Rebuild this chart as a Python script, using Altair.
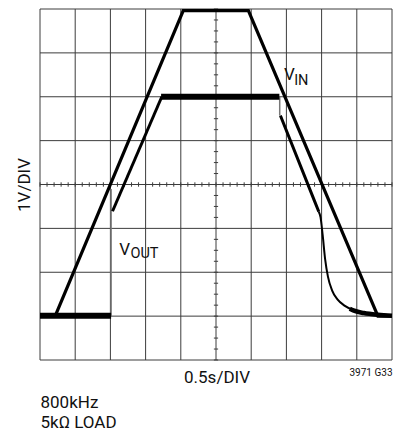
import altair as alt
import pandas as pd

# ---- data (division units: x 0..10, y 0..8) ----
vin_x = [0.0, 0.43, 4.07, 5.92, 9.60, 10.0]
vin_y = [1.0, 1.0, 7.965, 7.965, 1.0, 1.0]

vout_low_x = [0.0, 2.02]
vout_low_y = [1.01, 1.01]
vout_rise_x = [2.06, 3.46]
vout_rise_y = [3.39, 6.0]
vout_high_x = [3.44, 6.80]
vout_high_y = [6.0, 6.0]
vout_fall_x = [6.83, 7.80, 7.92]
vout_fall_y = [5.57, 3.62, 3.38]
vout_decay_x = [7.92, 7.97, 8.03, 8.10, 8.18, 8.30, 8.45, 8.65, 8.90, 9.20, 9.60, 10.0]
vout_decay_y = [3.38, 3.25, 2.85, 2.30, 1.90, 1.58, 1.38, 1.24, 1.14, 1.08, 1.04, 1.02]
vout_tail_x = [8.80, 8.90, 9.20, 9.60, 10.0]
vout_tail_y = [1.17, 1.13, 1.07, 1.03, 1.01]
spike_x = [2.02, 6.81]
spike_y1 = [1.0, 5.57]
spike_y2 = [3.9, 6.0]

grid_x = [0, 1, 2, 3, 4, 5, 6, 7, 8, 9, 10]
grid_y = [0, 1, 2, 3, 4, 5, 6, 7, 8]
minor_x = [i * 0.2 for i in range(51)]
minor_y = [i * 0.25 for i in range(33)]

main_text = ["V", "V"]
main_x = [6.93, 2.25]
main_y = [6.50, 2.51]
sub_text = ["IN", "OUT"]
sub_x = [7.22, 2.57]
sub_y = [6.36, 2.41]

W, H = 352, 351
FONT = "Roboto"

xs = alt.Scale(domain=[0, 10], nice=False, zero=False)
ys = alt.Scale(domain=[0, 8], nice=False, zero=False)


def X(f):
    return alt.X(f, type="quantitative", scale=xs, axis=None)


def Y(f):
    return alt.Y(f, type="quantitative", scale=ys, axis=None)


def line_layer(xv, yv, width, color="#000", interp="linear"):
    df = pd.DataFrame({"x": xv, "y": yv, "o": list(range(len(xv)))})
    return alt.Chart(df).mark_line(color=color, strokeWidth=width, strokeCap="butt",
                                   interpolate=interp).encode(
        x=X("x"), y=Y("y"), order=alt.Order("o", type="quantitative"),
    )


grid_color = "#3c3c3c"
vgrid = alt.Chart(pd.DataFrame({"x": grid_x, "y1": [0] * len(grid_x), "y2": [8] * len(grid_x)})).mark_rule(
    color=grid_color, strokeWidth=1).encode(x=X("x"), y=Y("y1"), y2="y2")
hgrid = alt.Chart(pd.DataFrame({"y": grid_y, "x1": [0] * len(grid_y), "x2": [10] * len(grid_y)})).mark_rule(
    color=grid_color, strokeWidth=1).encode(y=Y("y"), x=X("x1"), x2="x2")
mx = alt.Chart(pd.DataFrame({"x": minor_x, "y1": [3.95] * len(minor_x), "y2": [4.05] * len(minor_x)})).mark_rule(
    color=grid_color, strokeWidth=1).encode(x=X("x"), y=Y("y1"), y2="y2")
my = alt.Chart(pd.DataFrame({"y": minor_y, "x1": [4.94] * len(minor_y), "x2": [5.06] * len(minor_y)})).mark_rule(
    color=grid_color, strokeWidth=1).encode(y=Y("y"), x=X("x1"), x2="x2")

spikes = alt.Chart(pd.DataFrame({"x": spike_x, "y1": spike_y1, "y2": spike_y2})).mark_rule(
    color="#777", strokeWidth=1.5
).encode(x=X("x"), y=Y("y1"), y2="y2")

main_lab = alt.Chart(pd.DataFrame({"t": main_text, "x": main_x, "y": main_y})).mark_text(
    align="left", baseline="middle", font=FONT, fontSize=17, color="#111"
).encode(x=X("x"), y=Y("y"), text="t:N")
sub_lab = alt.Chart(pd.DataFrame({"t": sub_text, "x": sub_x, "y": sub_y})).mark_text(
    align="left", baseline="middle", font=FONT, fontSize=14.5, color="#111"
).encode(x=X("x"), y=Y("y"), text="t:N")


def static_text(txt, x, y, size=17, align="left", angle=0):
    df = pd.DataFrame({"t": [txt]})
    kw = dict(align=align, baseline="middle", font=FONT, fontSize=size, color="#111")
    if angle:
        kw["angle"] = angle
    return alt.Chart(df).mark_text(**kw).encode(text="t:N", x=alt.value(x), y=alt.value(y))


texts = [
    static_text("1V/DIV", -15, 176, 17, "center", 270),
    static_text("0.5s/DIV", 177, 369, 17, "center"),
    static_text("3971 G33", 352.5, 364, 10, "right"),
    static_text("800kHz", 0.5, 394, 17, "left"),
    static_text("5kΩ LOAD", 0.5, 414, 17, "left"),
]

chart = alt.layer(
    vgrid, hgrid, mx, my,
    spikes,
    line_layer(vin_x, vin_y, 3.2),
    line_layer(vout_low_x, vout_low_y, 6),
    line_layer(vout_rise_x, vout_rise_y, 3),
    line_layer(vout_high_x, vout_high_y, 6),
    line_layer(vout_fall_x, vout_fall_y, 3, interp="monotone"),
    line_layer(vout_decay_x, vout_decay_y, 2, interp="monotone"),
    line_layer(vout_tail_x, vout_tail_y, 4.5, interp="monotone"),
    main_lab, sub_lab,
    *texts,
).properties(
    width=W, height=H,
    autosize=alt.AutoSizeParams(type="none"),
    padding={"left": 32, "top": 1, "right": 5, "bottom": 72},
    background="white",
).configure_view(stroke=None)

chart.save("out.html", embed_options={"renderer": "svg", "actions": False})
